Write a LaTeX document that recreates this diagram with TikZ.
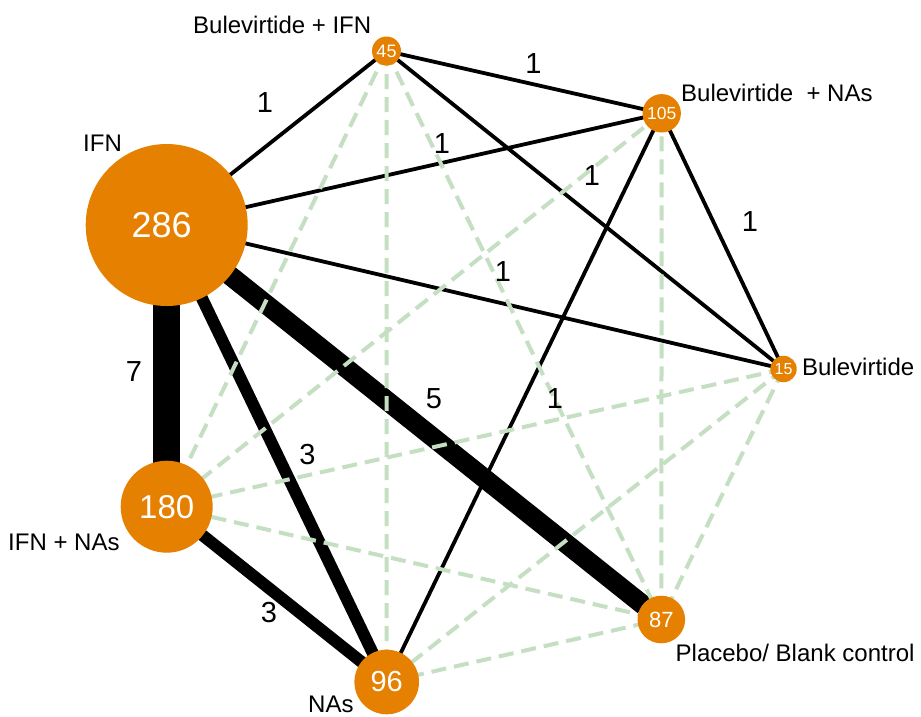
\documentclass[tikz,border=0pt]{standalone}
\usepackage{fontspec}
\setmainfont{Liberation Sans}
\definecolor{nodeorange}{RGB}{230,128,0}
\definecolor{dashgreen}{RGB}{196,223,193}
\pgfdeclarelayer{edges}
\pgfsetlayers{edges,main}
\begin{document}
\begin{tikzpicture}[x=1pt,y=-1pt,
  tnode/.style={circle,fill=nodeorange,inner sep=0pt,text=white},
  lbl/.style={inner sep=0pt,anchor=base west,font=\fontsize{24}{28}\selectfont},
  elbl/.style={inner sep=0pt,font=\fontsize{29}{34}\selectfont},
  oneedge/.style={draw=black,line width=3.8pt},
  dashedge/.style={draw=dashgreen,line width=4pt,dash pattern=on 15pt off 8pt}]
\useasboundingbox (0,0) rectangle (921,716);
% treatment nodes
\node[tnode,minimum size=162pt,font=\fontsize{36}{40}\selectfont] (ifn) at (166.7,225) {286\kern10pt};
\node[tnode,minimum size=29pt,font=\fontsize{18}{20}\selectfont] (bifn) at (386.5,51) {45};
\node[tnode,minimum size=38.4pt,font=\fontsize{17.5}{20}\selectfont] (bnas) at (661.7,113.3) {105};
\node[tnode,minimum size=26.4pt,font=\fontsize{16}{18}\selectfont] (bule) at (783.5,369) {15};
\node[tnode,minimum size=47.6pt,font=\fontsize{22}{24}\selectfont] (plac) at (661.3,619.5) {87};
\node[tnode,minimum size=64.6pt,font=\fontsize{29}{32}\selectfont] (nas) at (386.7,682) {96};
\node[tnode,minimum size=92pt,font=\fontsize{33}{36}\selectfont] (ifnnas) at (166.7,506.7) {180};
% treatment labels
\node[lbl] (l-bifn) at (193,33.3) {Bulevirtide + IFN};
\node[lbl] (l-bnas) at (681,101.7) {Bulevirtide\ \ + NAs};
\node[lbl] (l-ifn) at (83,151.7) {IFN};
\node[lbl] (l-bule) at (802,375) {Bulevirtide};
\node[lbl] (l-ifnnas) at (8,550) {IFN + NAs};
\node[lbl] (l-nas) at (308,712.5) {NAs};
\node[lbl] (l-plac) at (675.5,661.7) {Placebo/ Blank control};
% edges
\begin{pgfonlayer}{edges}
\fill[white] (0,0) rectangle (921,716);
\draw[oneedge] (ifn.center) -- (bifn.center);
\draw[oneedge] (ifn.center) -- (bnas.center);
\draw[oneedge] (ifn.center) -- (bule.center);
\draw[oneedge] (bifn.center) -- (bnas.center);
\draw[oneedge] (bifn.center) -- (bule.center);
\draw[oneedge] (bnas.center) -- (bule.center);
\draw[oneedge] (bnas.center) -- (nas.center);
\draw[line width=26.5pt] (ifn.center) -- (ifnnas.center);
\draw[line width=19.5pt] (ifn.center) -- (plac.center);
\draw[line width=12pt] (ifn.center) -- (nas.center);
\draw[line width=12pt] (ifnnas.center) -- (nas.center);
\draw[dashedge] (bifn.center) -- (ifnnas.center);
\draw[dashedge] (bifn.center) -- (nas.center);
\draw[dashedge] (bifn.center) -- (plac.center);
\draw[dashedge] (bnas.center) -- (ifnnas.center);
\draw[dashedge] (bnas.center) -- (plac.center);
\draw[dashedge] (bule.center) -- (ifnnas.center);
\draw[dashedge] (bule.center) -- (nas.center);
\draw[dashedge] (bule.center) -- (plac.center);
\draw[dashedge] (ifnnas.center) -- (plac.center);
\draw[dashedge] (nas.center) -- (plac.center);
\end{pgfonlayer}
% edge labels
\node[elbl] (e1) at (265,102.5) {1};
\node[elbl] (e2) at (533.5,64) {1};
\node[elbl] (e3) at (442,144) {1};
\node[elbl] (e4) at (592,176) {1};
\node[elbl] (e5) at (750,222) {1};
\node[elbl] (e6) at (503,272) {1};
\node[elbl] (e7) at (555,399) {1};
\node[elbl] (e8) at (134,372) {7};
\node[elbl] (e9) at (434,399) {5};
\node[elbl] (e10) at (307.5,455) {3};
\node[elbl] (e11) at (269,612.5) {3};
\end{tikzpicture}
\end{document}
